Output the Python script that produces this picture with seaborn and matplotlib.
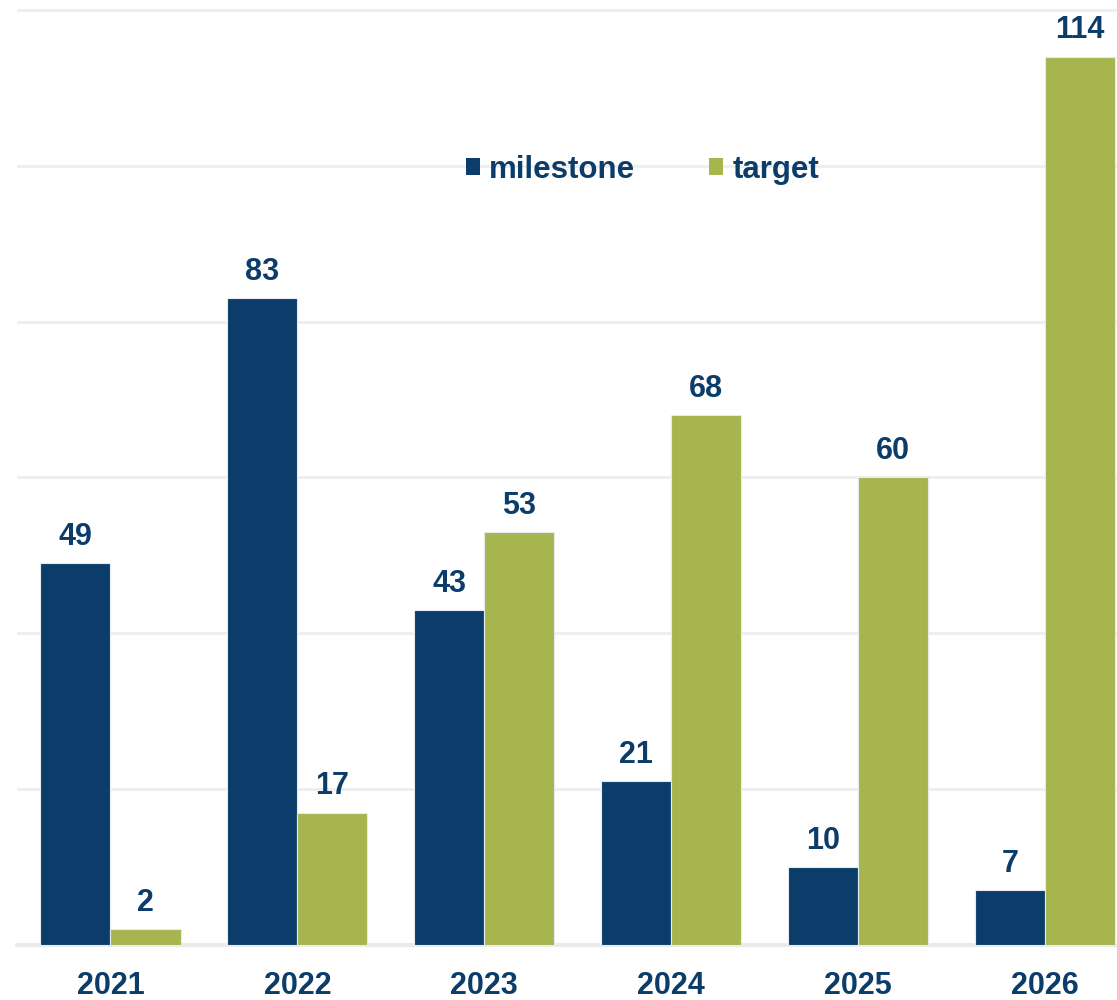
import matplotlib
matplotlib.use("Agg")
import matplotlib.pyplot as plt
import seaborn as sns
import pandas as pd

years = ["2021", "2022", "2023", "2024", "2025", "2026"]
milestone = [49, 83, 43, 21, 10, 7]
target = [2, 17, 53, 68, 60, 114]
series_names = ["milestone", "target"]

NAVY = "#0C3D6A"
GREEN = "#A6B54E"

df = pd.DataFrame({
    "year": years * 2,
    "value": milestone + target,
    "series": [series_names[0]] * len(years) + [series_names[1]] * len(years),
})

sns.set_style("white")
plt.rcParams["font.family"] = ["Liberation Sans", "DejaVu Sans"]

fig = plt.figure(figsize=(11.17, 10), dpi=100)
ax = fig.add_axes([17 / 1117, 55 / 1000, 1100 / 1117, 943 / 1000])

sns.barplot(
    data=df, x="year", y="value", hue="series",
    palette=[NAVY, GREEN], saturation=1, width=0.75, gap=0,
    edgecolor="#E6EBF0", linewidth=0.8, ax=ax, zorder=3,
)

ax.set_ylim(0, 121)
ax.set_xlim(-0.5, 5.385)
ax.set_yticks(range(20, 121, 20))
ax.yaxis.grid(True, color="#EEEEEE", linewidth=2, zorder=0)
ax.set_axisbelow(True)
ax.tick_params(axis="y", left=False, labelleft=False)
ax.tick_params(axis="x", length=0, pad=19)
for lbl in ax.get_xticklabels():
    lbl.set_fontsize(22)
    lbl.set_fontweight("bold")
    lbl.set_color(NAVY)
ax.set_xlabel("")
ax.set_ylabel("")
for s in ax.spines.values():
    s.set_visible(False)
ax.axhline(0, color="#EBEBEB", linewidth=3, zorder=2, clip_on=False)

for cont in ax.containers:
    ax.bar_label(cont, fmt="%d", padding=8, fontsize=22,
                 fontweight="bold", color=NAVY)

sns.move_legend(
    ax, loc="center left", bbox_to_anchor=(466 / 1117, 1 - 170 / 1000),
    bbox_transform=fig.transFigure, ncol=2, frameon=False, title=None,
    fontsize=22.5, handlelength=0.45, handleheight=0.45, handletextpad=0.29,
    columnspacing=2.37, borderpad=0, borderaxespad=0,
)
leg = ax.get_legend()
for t in leg.get_texts():
    t.set_fontweight("bold")
    t.set_color(NAVY)
for h in leg.legend_handles:
    h.set_edgecolor("none")

fig.savefig("out.png", dpi=100)
